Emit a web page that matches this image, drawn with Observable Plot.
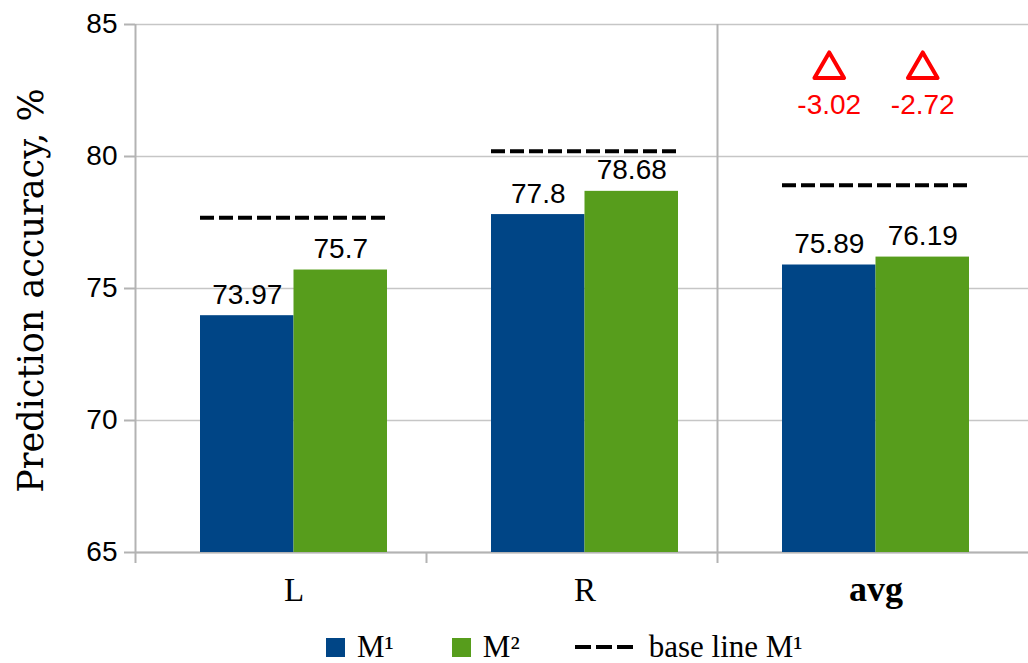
<!DOCTYPE html>
<html>
<head>
<meta charset="utf-8">
<script src="https://cdn.jsdelivr.net/npm/d3@7"></script>
<script src="https://cdn.jsdelivr.net/npm/@observablehq/plot@0.6"></script>
<style>
  html, body { margin: 0; padding: 0; background: #fff; }
  #wrap { position: relative; width: 1028px; height: 663px; }
  #legend { position: absolute; left: 326px; top: 632px; height: 30px; line-height: 30px; display: flex; align-items: center;
            font-family: "Liberation Serif", serif; font-size: 31px; color: #000; white-space: nowrap; }
  #legend .sw { width: 19px; height: 19px; display: inline-block; }
  #legend .lab { margin-left: 12px; line-height: 30px; }
</style>
</head>
<body>
<div id="wrap"><div id="chart"></div><div id="legend"></div></div>
<script>
// ---- data ----
const categories = ["L", "R", "avg"];
const series = ["M¹", "M²"];
const m1Values = [73.97, 77.8, 75.89];
const m2Values = [75.7, 78.68, 76.19];
const baselineM1 = [77.68, 80.2, 78.91];
const yTicks = [65, 70, 75, 80, 85];
const yDomain = [65, 85];
const yLabel = "Prediction accuracy, %";
const legendBaseline = "base line M¹";
const seriesColors = ["#004586", "#579d1c"];

// ---- layout constants ----
const W = 1028, H = 615;
const xRange = [135, 1008];
const bw = (xRange[1] - xRange[0]) / categories.length; // band width
const BW = 93.5;   // bar width
const GO = 13;     // group offset from band centre
const gray = "#b3b3b3";

const bars = categories.flatMap((c, i) => [
  {cat: c, series: series[0], value: m1Values[i]},
  {cat: c, series: series[1], value: m2Values[i]}
]);
const m1Bars = bars.filter(d => d.series === series[0]);
const m2Bars = bars.filter(d => d.series === series[1]);
const base = categories.map((c, i) => ({cat: c, value: baselineM1[i]}));
const last = categories.length - 1;
const deltas = [
  {cat: categories[last], series: series[0], delta: (m1Values[last] - baselineM1[last]).toFixed(2)},
  {cat: categories[last], series: series[1], delta: (m2Values[last] - baselineM1[last]).toFixed(2)}
];

const triOpts = {x: "cat", frameAnchor: "top", dy: 45, symbol: "triangle", r: 11, fill: "none",
  stroke: "#ff0000", strokeWidth: 4, strokeLinejoin: "round"};
const deltaTextOpts = {x: "cat", frameAnchor: "top", text: "delta", dy: 81, lineAnchor: "middle",
  textAnchor: "middle", fontSize: 28, fill: "#ff0000"};

const chart = Plot.plot({
  width: W,
  height: H,
  marginLeft: 135,
  marginRight: 0,
  marginTop: 24,
  marginBottom: 63,
  style: {fontFamily: "Liberation Sans, Arial, sans-serif", fontSize: "28px", background: "#fff", color: "#000", overflow: "visible"},
  x: {domain: categories, range: xRange, padding: 0},
  y: {domain: yDomain},
  marks: [
    Plot.gridY(yTicks, {stroke: "#c6c6c6", strokeOpacity: 1, strokeWidth: 1.5}),
    // axis lines: left axis, separator before avg
    Plot.ruleX([categories[0], categories[last]], {x: d => d, dx: -bw / 2, stroke: gray, strokeWidth: 2, insetBottom: -11}),
    // bottom tick at L|R boundary
    Plot.ruleX([categories[1]], {x: d => d, dx: -bw / 2, y1: yDomain[0], y2: yDomain[0], stroke: gray, strokeWidth: 2, insetBottom: -11}),
    Plot.ruleY([yDomain[0]], {stroke: gray, strokeWidth: 2}),
    Plot.axisY({ticks: yTicks, tickSize: 11, tickPadding: 7, fontSize: 28, stroke: gray, strokeWidth: 2, label: null}),
    Plot.axisX({ticks: categories.slice(0, last), tickSize: 0, tickPadding: 25, dx: GO, fontSize: 33, fontFamily: "Liberation Serif, serif", label: null}),
    Plot.axisX({ticks: [categories[last]], tickSize: 0, tickPadding: 23, dx: GO, fontSize: 36, fontWeight: "bold", fontFamily: "Liberation Serif, serif", label: null}),
    // bars
    Plot.barY(m1Bars, {x: "cat", y1: yDomain[0], y2: "value", fill: seriesColors[0],
      insetLeft: bw / 2 + GO - BW, insetRight: bw / 2 - GO}),
    Plot.barY(m2Bars, {x: "cat", y1: yDomain[0], y2: "value", fill: seriesColors[1],
      insetLeft: bw / 2 + GO, insetRight: bw / 2 - GO - BW}),
    // baseline dashes
    Plot.tickY(base, {x: "cat", y: "value", stroke: "#000", strokeWidth: 4, strokeDasharray: "14,5",
      insetLeft: bw / 2 + GO - BW, insetRight: bw / 2 - GO - BW}),
    // value labels
    Plot.text(m1Bars, {x: "cat", y: "value", text: d => String(d.value), dx: GO - BW / 2, dy: -12, lineAnchor: "bottom", fontSize: 28, fill: "#000"}),
    Plot.text(m2Bars, {x: "cat", y: "value", text: d => String(d.value), dx: GO + BW / 2, dy: -12, lineAnchor: "bottom", fontSize: 28, fill: "#000"}),
    // delta annotations
    Plot.dot(deltas.slice(0, 1), {...triOpts, dx: GO - BW / 2}),
    Plot.dot(deltas.slice(1), {...triOpts, dx: GO + BW / 2}),
    Plot.text(deltas.slice(0, 1), {...deltaTextOpts, dx: GO - BW / 2}),
    Plot.text(deltas.slice(1), {...deltaTextOpts, dx: GO + BW / 2}),
    // y label
    Plot.text([yLabel], {text: d => d, frameAnchor: "left", textAnchor: "middle", dx: -104, dy: 2, rotate: -90, lineAnchor: "middle",
      fontFamily: "DejaVu Serif, serif", fontSize: 35, fill: "#000"})
  ]
});
document.getElementById("chart").appendChild(chart);

// ---- legend ----
const legend = document.getElementById("legend");
series.forEach((s, i) => {
  const item = document.createElement("div");
  item.style.display = "flex";
  item.style.alignItems = "center";
  item.style.marginRight = i === 0 ? "58px" : "55px";
  item.innerHTML = `<span class="sw" style="background:${seriesColors[i]}"></span><span class="lab">${s}</span>`;
  legend.appendChild(item);
});
const bl = document.createElement("div");
bl.style.display = "flex";
bl.style.alignItems = "center";
bl.innerHTML = `<svg width="62" height="10"><line x1="0" y1="5" x2="62" y2="5" stroke="#000" stroke-width="4" stroke-dasharray="16,5"/></svg><span class="lab">${legendBaseline}</span>`;
legend.appendChild(bl);
</script>
</body>
</html>
